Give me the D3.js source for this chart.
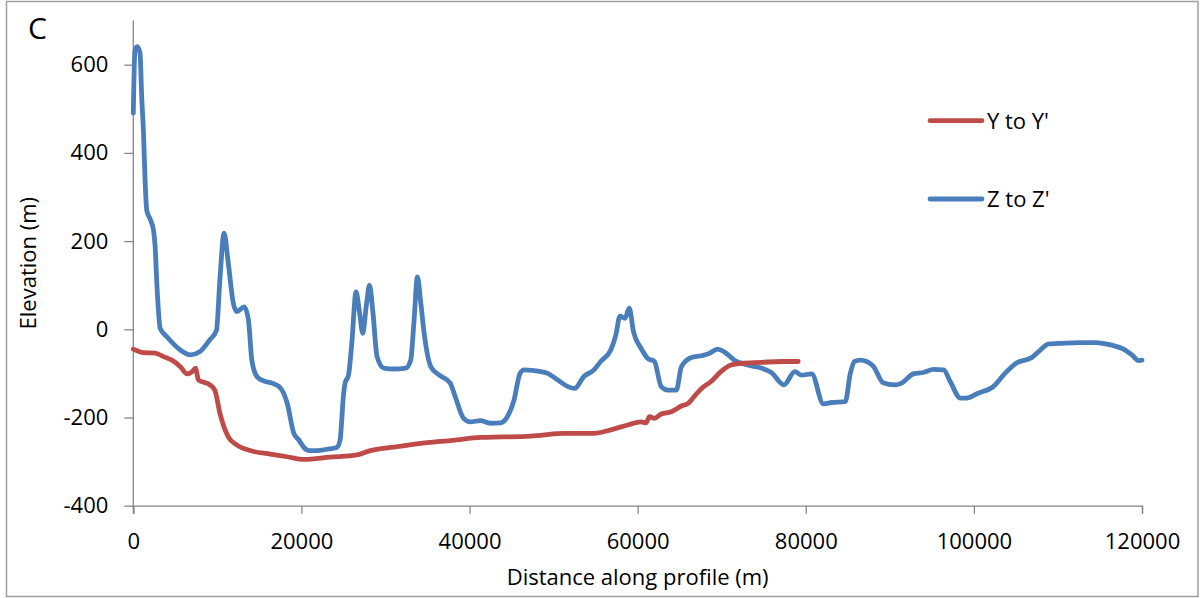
<!DOCTYPE html>
<html>
<head>
<meta charset="utf-8">
<script src="https://cdn.jsdelivr.net/npm/d3@7"></script>
<style>
  html, body { margin: 0; padding: 0; background: #fff; }
  svg text { font-family: "Open Sans", "Noto Sans", sans-serif; fill: #000; }
</style>
</head>
<body>
<svg id="chart" width="1201" height="598"></svg>
<script>
// ---- data ----
const seriesNames = ["Y to Y'", "Z to Z'"];
const seriesColors = ["#BE4B48", "#4A7EBB"];

const yDistance = [0,1200,2600,3600,4600,5600,6400,7000,7400,7750,9100,9700,10300,11300,12300,13900,16300,18300,20300,23400,26600,28200,31400,35000,38000,41300,44000,47300,51300,54800,56800,58800,60400,61000,61400,62000,62800,64000,65200,66000,66700,67600,68700,69900,71100,72300,74700,77100,79100];
const yElevation = [-45,-53,-54,-62,-70,-85,-101,-96,-88,-115,-126,-138,-190,-244,-262,-275,-283,-289,-295,-290,-285,-275,-266,-257,-252,-245,-244,-242,-236,-236,-228,-217,-210,-212,-198,-202,-192,-187,-174,-168,-153,-134,-119,-96,-81,-77,-75,-73,-73];

const zDistance = [0,200,480,800,1000,1200,1400,1600,2000,2400,2600,2800,3200,4000,5600,6800,7900,9100,9900,10300,10800,11300,11900,12300,13200,13700,14100,14700,15500,16500,17500,18300,19100,19700,20300,20900,21900,23000,24200,24600,25000,25200,25600,26000,26500,26900,27300,27700,28100,28500,29000,29800,31000,32400,33000,33400,33800,34200,34600,35400,36500,37700,38300,39300,40100,41300,42500,43700,44700,45300,46000,46500,48500,49300,50500,51700,52500,53600,54800,55600,56800,57400,57900,58500,59000,59500,60400,61200,62000,62800,63600,64600,65200,66400,67600,68500,69500,70300,71500,73100,74700,75900,77400,78700,79500,80700,82100,83100,84700,85300,85800,86500,88000,89200,90600,91400,92800,94000,95200,96400,97200,98400,99100,100500,102300,103700,105100,106900,107900,108900,110100,112500,114400,116400,117800,118800,119600,120000];
const zElevation = [490,633,641,626,527,452,339,270,250,225,187,104,2,-17,-47,-58,-51,-24,-2,112,218,150,59,40,51,21,-70,-107,-117,-122,-133,-167,-236,-251,-268,-275,-275,-272,-268,-251,-150,-122,-104,-30,85,40,-9,50,100,40,-62,-88,-90,-88,-70,20,119,60,-9,-85,-105,-122,-153,-202,-210,-207,-213,-212,-191,-160,-100,-92,-96,-100,-115,-130,-134,-107,-92,-73,-47,-13,30,25,48,-5,-43,-66,-73,-130,-138,-138,-85,-64,-60,-55,-45,-51,-70,-81,-88,-98,-126,-96,-104,-101,-169,-166,-164,-100,-73,-70,-83,-121,-126,-122,-101,-98,-91,-92,-119,-156,-156,-145,-130,-100,-76,-64,-47,-33,-32,-30,-30,-36,-45,-58,-71,-70];

const xTicks = [0,20000,40000,60000,80000,100000,120000];
const yTicks = [-400,-200,0,200,400,600];
const xDomain = [0,120000];
const yDomain = [-400,700];

// ---- layout ----
const svg = d3.select("#chart");
const plotLeft = 133.3, plotRight = 1142, plotTop = 20.6, plotBottom = 505.7;

svg.append("rect").attr("x",6.5).attr("y",1.5).attr("width",1191.5).attr("height",595)
  .attr("fill","#fff").attr("stroke","#a0a0a0").attr("stroke-width",1.5);

const x = d3.scaleLinear().domain(xDomain).range([plotLeft,plotRight]);
const y = d3.scaleLinear().domain(yDomain).range([plotBottom,plotTop]);

const axisColor = "#868686";
const fmt = d => String(d);

// x axis
const gx = svg.append("g").attr("transform",`translate(0,${plotBottom})`)
  .call(d3.axisBottom(x).tickValues(xTicks).tickSize(8).tickPadding(20).tickFormat(fmt));
gx.select(".domain").attr("stroke",axisColor).attr("stroke-width",1.3);
gx.selectAll(".tick line").attr("stroke",axisColor).attr("stroke-width",1.3);
gx.selectAll(".tick text").style("font-size","22px").attr("fill","#000");

// y axis
const gy = svg.append("g").attr("transform",`translate(${plotLeft},0)`)
  .call(d3.axisLeft(y).tickValues(yTicks).tickSize(9).tickPadding(16).tickFormat(fmt));
gy.select(".domain").attr("stroke",axisColor).attr("stroke-width",1.3)
  .attr("d",`M0,${plotTop}V${plotBottom+8}`);
gy.selectAll(".tick line").attr("stroke",axisColor).attr("stroke-width",1.3);
gy.selectAll(".tick text").style("font-size","22px").attr("fill","#000");

// axis titles
svg.append("text").attr("x",(plotLeft+plotRight)/2).attr("y",585)
  .attr("text-anchor","middle").style("font-size","22px").text("Distance along profile (m)");
svg.append("text").attr("transform",`translate(36,${(plotTop+plotBottom)/2}) rotate(-90)`)
  .attr("text-anchor","middle").style("font-size","22px").text("Elevation (m)");

// panel label
svg.append("text").attr("x",28).attr("y",39).style("font-size","30px").text("C");

// lines
const line = d3.line().x(d=>x(d[0])).y(d=>y(d[1])).curve(d3.curveMonotoneX);
const ySeries = yDistance.map((d,i)=>[d,yElevation[i]]);
const zSeries = zDistance.map((d,i)=>[d,zElevation[i]]);

[[zSeries,1],[ySeries,0]].forEach(([s,idx])=>{
  svg.append("path").datum(s).attr("d",line).attr("fill","none")
    .attr("stroke",seriesColors[idx]).attr("stroke-width",4.8)
    .attr("stroke-linejoin","round").attr("stroke-linecap","round");
});

// legend
const legendY = [120.7, 199];
seriesNames.forEach((n,i)=>{
  svg.append("line").attr("x1",930).attr("x2",982).attr("y1",legendY[i]).attr("y2",legendY[i])
    .attr("stroke",seriesColors[i]).attr("stroke-width",4.8).attr("stroke-linecap","round");
  svg.append("text").attr("x",987).attr("y",legendY[i]+8).style("font-size","22px").text(n);
});
</script>
</body>
</html>
